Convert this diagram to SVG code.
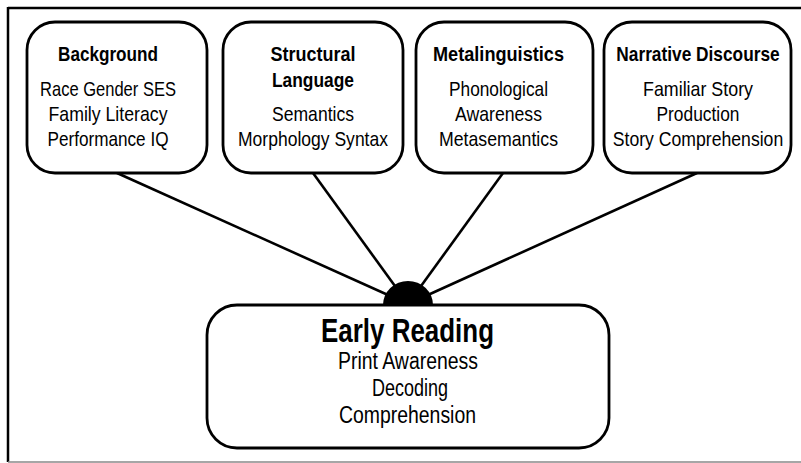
<svg xmlns="http://www.w3.org/2000/svg" width="801" height="463" viewBox="0 0 801 463">
<style>
.box{fill:#fff;stroke:#000;stroke-width:2.8}
.t{font-family:"Liberation Sans",Arial,sans-serif;font-weight:bold;font-size:20px;text-anchor:middle;fill:#000}
.b{font-family:"Liberation Sans",Arial,sans-serif;font-size:21px;text-anchor:middle;fill:#000}
.bt{font-family:"Liberation Sans",Arial,sans-serif;font-weight:bold;font-size:34px;text-anchor:middle;fill:#000}
.bb{font-family:"Liberation Sans",Arial,sans-serif;font-size:23px;text-anchor:middle;fill:#000}
.c{stroke:#000;stroke-width:2.6;fill:none}
</style>
<rect width="801" height="463" fill="#fff"/>
<g id="frame">
<line x1="8" y1="8" x2="801" y2="8" stroke="#000" stroke-width="2.5"/>
<line x1="8" y1="7" x2="8" y2="462" stroke="#000" stroke-width="2.5"/>
<line x1="8" y1="462" x2="801" y2="462" stroke="#888" stroke-width="1.5"/>
</g>
<g id="connectors">
<line class="c" x1="117" y1="173" x2="408" y2="304"/>
<line class="c" x1="313" y1="173" x2="408" y2="304"/>
<line class="c" x1="503" y1="173" x2="408" y2="304"/>
<line class="c" x1="697" y1="173" x2="408" y2="304"/>
</g>
<g id="background">
<rect class="box" x="27" y="22" width="180" height="151" rx="28"/>
<text class="t" x="108" y="61" textLength="100" lengthAdjust="spacingAndGlyphs">Background</text>
<text class="b" x="108" y="96" textLength="136" lengthAdjust="spacingAndGlyphs">Race Gender SES</text>
<text class="b" x="108" y="121" textLength="119" lengthAdjust="spacingAndGlyphs">Family Literacy</text>
<text class="b" x="108" y="146" textLength="121" lengthAdjust="spacingAndGlyphs">Performance IQ</text>
</g>
<g id="structural">
<rect class="box" x="223" y="22" width="180" height="151" rx="28"/>
<text class="t" x="313" y="61" textLength="85" lengthAdjust="spacingAndGlyphs">Structural</text>
<text class="t" x="313" y="87" textLength="82" lengthAdjust="spacingAndGlyphs">Language</text>
<text class="b" x="313" y="121" textLength="82" lengthAdjust="spacingAndGlyphs">Semantics</text>
<text class="b" x="313" y="146" textLength="150" lengthAdjust="spacingAndGlyphs">Morphology Syntax</text>
</g>
<g id="metalinguistics">
<rect class="box" x="416" y="22" width="177" height="151" rx="28"/>
<text class="t" x="498.5" y="61" textLength="131" lengthAdjust="spacingAndGlyphs">Metalinguistics</text>
<text class="b" x="498.5" y="96" textLength="99" lengthAdjust="spacingAndGlyphs">Phonological</text>
<text class="b" x="498.5" y="121" textLength="87" lengthAdjust="spacingAndGlyphs">Awareness</text>
<text class="b" x="498.5" y="146" textLength="119" lengthAdjust="spacingAndGlyphs">Metasemantics</text>
</g>
<g id="narrative">
<rect class="box" x="604" y="22" width="187" height="151" rx="28"/>
<text class="t" transform="translate(698,61) scale(0.865,1)" x="0" y="0">Narrative Discourse</text>
<text class="b" x="698" y="96" textLength="110" lengthAdjust="spacingAndGlyphs">Familiar Story</text>
<text class="b" x="698" y="121" textLength="83" lengthAdjust="spacingAndGlyphs">Production</text>
<text class="b" transform="translate(698,146) scale(0.84,1)" x="0" y="0">Story Comprehension</text>
</g>
<g id="hub">
<path d="M383,305 A25,24 0 0 1 433,305 Z" fill="#000"/>
</g>
<g id="early-reading">
<rect class="box" x="207" y="305" width="402" height="143" rx="30"/>
<text class="bt" x="407.5" y="342" textLength="173" lengthAdjust="spacingAndGlyphs">Early Reading</text>
<text class="bb" x="408" y="369" textLength="140" lengthAdjust="spacingAndGlyphs">Print Awareness</text>
<text class="bb" x="410" y="396" textLength="76" lengthAdjust="spacingAndGlyphs">Decoding</text>
<text class="bb" x="407.5" y="423" textLength="137" lengthAdjust="spacingAndGlyphs">Comprehension</text>
</g>
</svg>
